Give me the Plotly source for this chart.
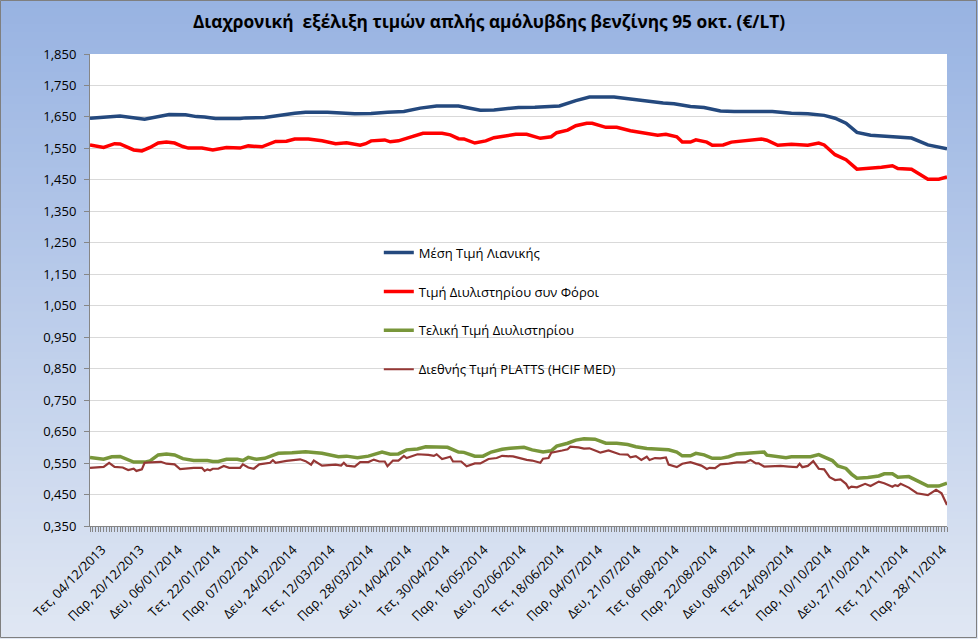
import plotly.graph_objects as go
import pandas as pd

# ---- categories: trading days (Mon-Sat) shown on the category axis ----
start_date = "2013-12-04"
end_date = "2014-12-05"
all_days = pd.date_range(start_date, end_date, freq="D")
categories = [d for d in all_days if d.weekday() != 6]

tick_labels = [
    "Τετ, 04/12/2013", "Παρ, 20/12/2013", "Δευ, 06/01/2014", "Τετ, 22/01/2014",
    "Παρ, 07/02/2014", "Δευ, 24/02/2014", "Τετ, 12/03/2014", "Παρ, 28/03/2014",
    "Δευ, 14/04/2014", "Τετ, 30/04/2014", "Παρ, 16/05/2014", "Δευ, 02/06/2014",
    "Τετ, 18/06/2014", "Παρ, 04/07/2014", "Δευ, 21/07/2014", "Τετ, 06/08/2014",
    "Παρ, 22/08/2014", "Δευ, 08/09/2014", "Τετ, 24/09/2014", "Παρ, 10/10/2014",
    "Δευ, 27/10/2014", "Τετ, 12/11/2014", "Παρ, 28/11/2014",
]
tick_dates = [pd.Timestamp(pd.to_datetime(t.split(", ")[1], format="%d/%m/%Y")) for t in tick_labels]

# ---- series (category position, value) ----
retail_idx = [0, 11, 20, 29, 35, 39, 42, 46, 55, 57, 64, 69, 75, 79, 87, 97, 103, 109, 115, 121,
              127, 135, 138, 143, 148, 153, 157, 163, 170, 172, 178, 183, 192, 197, 203, 210, 214,
              220, 225, 231, 236, 250, 257, 263, 269, 273, 277, 281, 286, 294, 301, 307, 314]
retail_val = [1.646, 1.653, 1.643, 1.658, 1.657, 1.651, 1.650, 1.645, 1.645, 1.647, 1.648, 1.655,
              1.662, 1.665, 1.665, 1.660, 1.661, 1.665, 1.667, 1.678, 1.685, 1.685, 1.679, 1.671,
              1.672, 1.677, 1.680, 1.681, 1.683, 1.685, 1.702, 1.713, 1.713, 1.708, 1.700, 1.694,
              1.692, 1.683, 1.680, 1.669, 1.667, 1.667, 1.662, 1.660, 1.655, 1.646, 1.630, 1.601,
              1.592, 1.587, 1.583, 1.561, 1.549]

refinery_tax_idx = [0, 5, 9, 11, 16, 19, 22, 25, 28, 31, 34, 36, 41, 45, 50, 55, 58, 63, 68, 72, 75,
                    80, 85, 90, 94, 96, 99, 101, 103, 108, 110, 113, 118, 122, 129, 132, 135, 137,
                    141, 145, 148, 152, 156, 160, 165, 169, 171, 175, 178, 182, 184, 189, 193, 198,
                    203, 208, 211, 215, 217, 220, 222, 226, 228, 232, 235, 237, 246, 248, 252, 257,
                    263, 267, 269, 273, 277, 281, 286, 290, 294, 296, 301, 307, 311, 314]
refinery_tax_val = [1.561, 1.553, 1.565, 1.564, 1.545, 1.542, 1.553, 1.567, 1.570, 1.567, 1.556,
                    1.551, 1.551, 1.545, 1.553, 1.551, 1.558, 1.555, 1.572, 1.573, 1.580, 1.580,
                    1.574, 1.565, 1.568, 1.565, 1.560, 1.565, 1.574, 1.577, 1.571, 1.574, 1.587,
                    1.598, 1.598, 1.593, 1.581, 1.580, 1.567, 1.574, 1.584, 1.590, 1.595, 1.595,
                    1.582, 1.587, 1.600, 1.608, 1.622, 1.630, 1.630, 1.617, 1.617, 1.606, 1.598,
                    1.592, 1.595, 1.587, 1.570, 1.570, 1.577, 1.570, 1.560, 1.561, 1.570, 1.572,
                    1.580, 1.576, 1.560, 1.563, 1.560, 1.567, 1.561, 1.530, 1.514, 1.484, 1.487,
                    1.490, 1.495, 1.486, 1.484, 1.452, 1.452, 1.459]

refinery_idx = [0, 5, 8, 11, 16, 20, 22, 25, 28, 31, 34, 38, 43, 45, 47, 50, 54, 56, 58, 61, 64, 67,
                69, 74, 79, 85, 91, 94, 98, 102, 107, 110, 113, 116, 120, 123, 129, 131, 135, 137,
                141, 144, 147, 151, 154, 159, 162, 166, 169, 171, 175, 178, 181, 185, 189, 193, 197,
                200, 204, 210, 212, 215, 217, 220, 222, 225, 228, 231, 234, 237, 242, 245, 247, 248,
                252, 255, 257, 264, 267, 269, 272, 274, 277, 279, 281, 285, 289, 291, 294, 296, 300,
                303, 307, 311, 314]
refinery_val = [0.568, 0.562, 0.570, 0.571, 0.553, 0.553, 0.557, 0.576, 0.579, 0.576, 0.564, 0.558,
                0.558, 0.555, 0.555, 0.562, 0.562, 0.558, 0.568, 0.562, 0.565, 0.576, 0.581, 0.583,
                0.586, 0.581, 0.570, 0.572, 0.567, 0.572, 0.585, 0.578, 0.579, 0.592, 0.595, 0.602,
                0.602, 0.600, 0.585, 0.584, 0.572, 0.572, 0.585, 0.594, 0.597, 0.600, 0.592, 0.585,
                0.589, 0.604, 0.613, 0.623, 0.627, 0.626, 0.613, 0.613, 0.609, 0.602, 0.596, 0.594,
                0.592, 0.585, 0.573, 0.573, 0.581, 0.576, 0.565, 0.565, 0.570, 0.579, 0.583, 0.585,
                0.585, 0.575, 0.570, 0.567, 0.570, 0.570, 0.577, 0.570, 0.558, 0.541, 0.533, 0.515,
                0.502, 0.504, 0.509, 0.516, 0.516, 0.505, 0.507, 0.494, 0.477, 0.477, 0.486]

platts_idx = [0, 3, 5, 7, 9, 12, 14, 16, 17, 19, 20, 24, 26, 28, 31, 33, 38, 41, 42, 43, 44, 45, 47,
              49, 51, 55, 56, 58, 60, 62, 66, 67, 68, 72, 77, 79, 81, 82, 85, 90, 92, 93, 94, 97, 99,
              102, 104, 106, 108, 109, 111, 113, 115, 116, 118, 120, 124, 126, 127, 129, 132, 133,
              136, 138, 141, 143, 146, 149, 151, 155, 160, 162, 165, 166, 168, 169, 173, 175, 176,
              179, 181, 183, 186, 187, 190, 192, 194, 197, 198, 200, 201, 202, 204, 205, 207, 209,
              211, 212, 215, 217, 220, 222, 224, 226, 227, 229, 231, 234, 237, 240, 242, 244, 245,
              247, 253, 256, 259, 260, 261, 263, 265, 267, 269, 271, 273, 275, 277, 278, 279, 281,
              284, 286, 289, 291, 294, 295, 296, 297, 300, 303, 307, 310, 312, 314]
platts_val = [0.535, 0.536, 0.538, 0.551, 0.538, 0.536, 0.528, 0.532, 0.525, 0.530, 0.551, 0.553,
              0.554, 0.548, 0.546, 0.531, 0.535, 0.535, 0.525, 0.530, 0.527, 0.532, 0.532, 0.541,
              0.535, 0.535, 0.546, 0.536, 0.532, 0.546, 0.551, 0.559, 0.551, 0.557, 0.562, 0.556,
              0.545, 0.558, 0.542, 0.545, 0.542, 0.551, 0.542, 0.539, 0.553, 0.553, 0.561, 0.555,
              0.555, 0.540, 0.558, 0.558, 0.573, 0.566, 0.571, 0.578, 0.576, 0.573, 0.578, 0.563,
              0.570, 0.555, 0.555, 0.540, 0.549, 0.549, 0.563, 0.566, 0.573, 0.571, 0.560, 0.558,
              0.551, 0.564, 0.566, 0.583, 0.590, 0.594, 0.602, 0.600, 0.596, 0.597, 0.587, 0.583,
              0.590, 0.585, 0.578, 0.577, 0.568, 0.572, 0.566, 0.560, 0.570, 0.560, 0.566, 0.565,
              0.568, 0.545, 0.537, 0.548, 0.553, 0.548, 0.542, 0.531, 0.535, 0.534, 0.546, 0.548,
              0.552, 0.552, 0.560, 0.549, 0.549, 0.539, 0.541, 0.539, 0.537, 0.548, 0.537, 0.541,
              0.556, 0.532, 0.530, 0.505, 0.496, 0.498, 0.484, 0.470, 0.475, 0.473, 0.484, 0.477,
              0.491, 0.486, 0.475, 0.480, 0.477, 0.484, 0.472, 0.454, 0.448, 0.465, 0.454, 0.417]

series_names = [
    "Μέση Τιμή Λιανικής",
    "Τιμή Διυλιστηρίου συν Φόροι",
    "Τελική Τιμή Διυλιστηρίου",
    "Διεθνής Τιμή PLATTS (HCIF MED)",
]
title_text = "Διαχρονική\u00a0 εξέλιξη τιμών απλής αμόλυβδης βενζίνης 95 οκτ. (€/LT)"

y_min, y_max, y_step = 0.35, 1.85, 0.1

# ---- figure geometry / styling ----
W, H = 978, 639
ML, MR, MT, MB = 90, 31, 54, 113
PW, PH = W - ML - MR, H - MT - MB
FONT = "Open Sans"

colors = ["#24497E", "#FF0000", "#78963A", "#953735"]
widths = [3.5, 3.5, 3.5, 2.2]

fig = go.Figure()
data = [(retail_idx, retail_val), (refinery_tax_idx, refinery_tax_val),
        (refinery_idx, refinery_val), (platts_idx, platts_val)]
for (idx, vals), name, c, w in zip(data, series_names, colors, widths):
    fig.add_trace(go.Scatter(
        x=idx, y=vals, mode="lines", name=name, legendgroup=name,
        line=dict(color=c, width=w), hoverinfo="skip",
    ))

tick_positions = [categories.index(d) for d in tick_dates]


def px_to_paper_y(py):
    return (H - py - MB) / PH


def px_to_paper_x(px):
    return (px - ML) / PW


# background gradient (Excel style)
shapes = []
top_rgb = (152, 179, 226)
bot_rgb = (224, 231, 243)
n_bands = 80
for k in range(n_bands):
    t = k / (n_bands - 1)
    r = round(top_rgb[0] + (bot_rgb[0] - top_rgb[0]) * t)
    g = round(top_rgb[1] + (bot_rgb[1] - top_rgb[1]) * t)
    b = round(top_rgb[2] + (bot_rgb[2] - top_rgb[2]) * t)
    y_top = k * H / n_bands
    y_bot = (k + 1) * H / n_bands + 1
    shapes.append(dict(type="rect", xref="paper", yref="paper", layer="below",
                       x0=-1, x1=2, y0=px_to_paper_y(y_bot), y1=px_to_paper_y(y_top),
                       fillcolor=f"rgb({r},{g},{b})", line=dict(width=0)))
# white plot area
shapes.append(dict(type="rect", xref="paper", yref="paper", layer="below",
                   x0=0, x1=1, y0=0, y1=1, fillcolor="white", line=dict(width=0)))
# outer frame
shapes.append(dict(type="rect", xref="paper", yref="paper", layer="above",
                   x0=px_to_paper_x(0.5), x1=px_to_paper_x(W - 1.5),
                   y0=px_to_paper_y(H - 1.5), y1=px_to_paper_y(0.5),
                   fillcolor="rgba(0,0,0,0)", line=dict(color="#7F7F7F", width=1)))

fig.update_layout(
    width=W, height=H,
    margin=dict(l=ML, r=MR, t=MT, b=MB),
    paper_bgcolor="#DCE4F2",
    plot_bgcolor="white",
    separators=",.",
    font=dict(family=FONT, color="black", size=13),
    title=dict(text=f"<b>{title_text}</b>", x=0.5, xref="container", xanchor="center",
               y=1 - 22 / H, yref="container", yanchor="middle",
               font=dict(family=FONT, size=17.3, color="black")),
    showlegend=True,
    legend=dict(x=0.337, y=0.611, xanchor="left", yanchor="top",
                bgcolor="rgba(0,0,0,0)", borderwidth=0,
                font=dict(family=FONT, size=13, color="black"),
                tracegroupgap=19, itemwidth=30),
    shapes=shapes,
    xaxis=dict(
        range=[0, len(categories) - 1],
        tickmode="array", tickvals=tick_positions, ticktext=tick_labels,
        tickangle=-45, tickfont=dict(family=FONT, size=13, color="black"),
        ticklabelshift=12, ticklabelstandoff=5,
        ticks="outside", ticklen=5, tickcolor="#868686",
        showline=True, linecolor="#868686", linewidth=1,
        showgrid=False, zeroline=False,
        minor=dict(tickmode="linear", tick0=0, dtick=1, ticks="outside",
                   ticklen=5, tickcolor="#868686", showgrid=False),
    ),
    yaxis=dict(
        range=[y_min, y_max], tick0=y_min, dtick=y_step, tickformat=".3f",
        tickfont=dict(family=FONT, size=13, color="black"),
        ticklabelstandoff=5,
        ticks="outside", ticklen=5, tickcolor="#868686",
        showline=True, linecolor="#868686", linewidth=1,
        showgrid=True, gridcolor="#D9D9D9", gridwidth=1, zeroline=False,
    ),
)

fig.write_html("out.html", config={"displayModeBar": False},
               post_script="document.body.style.margin='0';document.body.style.overflow='hidden';")
